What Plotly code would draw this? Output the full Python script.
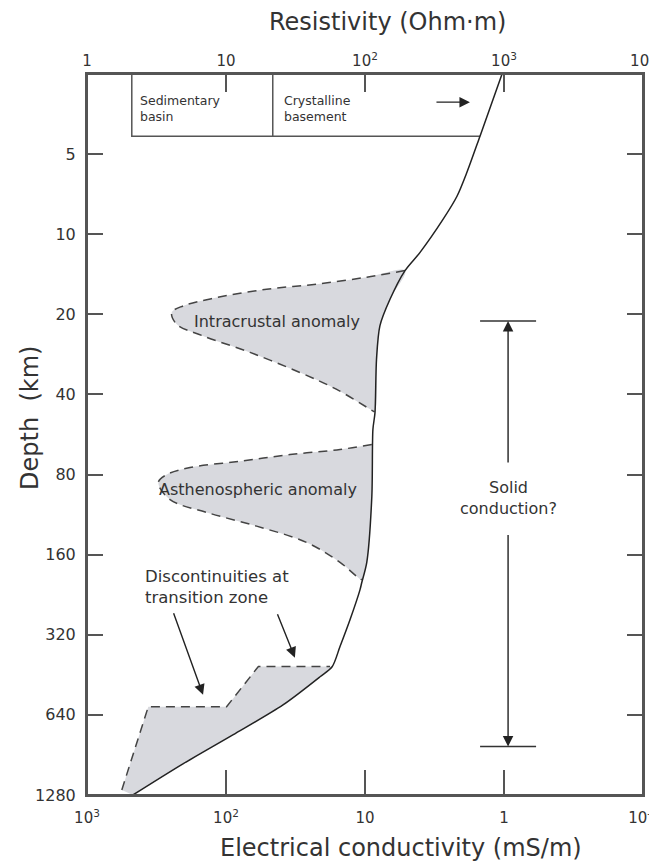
import numpy as np
import plotly.graph_objects as go

# Main resistivity-depth profile (solid line)
profile_depth = [2.5, 4.28, 5.84, 7.2, 8.8, 11.7, 13.7, 17.6, 22.1, 29.5, 46.8, 54.2,
                 96.5, 171, 204, 217, 281, 355, 422, 460, 587, 761, 978, 1280]
profile_res = [968, 672, 542, 459, 364, 249, 194, 151, 128, 121, 118, 114,
               112, 103, 94.7, 92, 78, 66, 58, 47.5, 25.7, 11.2, 4.9, 2.14]

# Intracrustal anomaly outline (dashed)
intra_res = [194, 103, 45, 19.6, 8.58, 4.91, 4.07, 4.42, 6.83, 14.9, 34.1, 62.6, 109, 117]
intra_depth = [13.7, 14.5, 15.4, 16.1, 17.3, 18.6, 19.7, 21.8, 24.1, 27.8, 33.1, 38.3, 45.5, 46.5]

# Asthenospheric anomaly outline (dashed)
asth_res = [112, 66.1, 28.9, 12.6, 5.51, 3.75, 3.26, 3.96, 7.26, 16.6, 38.1, 66.1, 87.1, 94.7]
asth_depth = [61.7, 64.4, 67.3, 71.3, 75.3, 80, 85.7, 99.3, 111, 125, 144, 171, 193, 199]

# Transition zone discontinuities (dashed steps)
tz_res = [1.78, 2.76, 10.1, 17.1, 56]
tz_depth = [1225, 596, 596, 421, 421]

# Sedimentary basin / crystalline basement box
basin_res = [2.1, 21.7]
basin_depth = 4.28
basement_res_at_base = 672

# "Solid conduction?" range
solid_res = 1070
solid_depth = [21.2, 842]

# Axis ticks
depth_ticks = [5, 10, 20, 40, 80, 160, 320, 640, 1280]
res_ticks = [1, 10, 100, 1000, 10000]
res_ticktext = ["1", "10", "10<sup>2</sup>", "10<sup>3</sup>", "10<sup>4</sup>"]
cond_ticks = [1000, 100, 10, 1, 0.1]
cond_ticktext = ["10<sup>3</sup>", "10<sup>2</sup>", "10", "1", "10<sup>-1</sup>"]

ink = "#333333"
axis_col = "#555555"
fill_col = "#d8d9de"
font = "DejaVu Sans"


def patch(a_res, a_dep, lo, hi):
    # close a dashed outline against the solid profile
    pts = [(r, d) for r, d in zip(profile_res, profile_depth) if lo <= d <= hi]
    if a_dep[-1] > a_dep[0]:
        pts = pts[::-1]
    return list(a_res) + [p[0] for p in pts], list(a_dep) + [p[1] for p in pts]


fig = go.Figure()

# gray filled anomalies
for a_res, a_dep, lo, hi, shape in [
    (intra_res, intra_depth, intra_depth[0], intra_depth[-1], "spline"),
    (asth_res, asth_depth, asth_depth[0], asth_depth[-1], "spline"),
    (tz_res, tz_depth, tz_depth[-1], max(profile_depth), "linear"),
]:
    px, py = patch(a_res, a_dep, lo, hi)
    fig.add_trace(go.Scatter(x=px, y=py, mode="lines", fill="toself", fillcolor=fill_col,
                             line=dict(width=0, shape=shape), hoverinfo="skip",
                             showlegend=False))

# dashed outlines
for a_res, a_dep, shape in [(intra_res, intra_depth, "spline"),
                            (asth_res, asth_depth, "spline"),
                            (tz_res, tz_depth, "linear")]:
    fig.add_trace(go.Scatter(x=a_res, y=a_dep, mode="lines",
                             line=dict(color="#444444", width=1.5, dash="9px,6px", shape=shape),
                             hoverinfo="skip", showlegend=False))

# box for sedimentary basin / crystalline basement
fig.add_trace(go.Scatter(
    x=[basin_res[0], basin_res[0], basement_res_at_base, None, basin_res[1], basin_res[1]],
    y=[min(profile_depth), basin_depth, basin_depth, None, min(profile_depth), basin_depth],
    mode="lines", line=dict(color=axis_col, width=1.5), hoverinfo="skip", showlegend=False))

# caps of the "solid conduction" range
fig.add_trace(go.Scatter(x=[solid_res, solid_res], y=solid_depth, mode="markers",
                         marker=dict(symbol="line-ew-open", size=40, color=ink,
                                     line=dict(color=ink, width=1.5)),
                         hoverinfo="skip", showlegend=False))

# main profile drawn on the conductivity axis (mS/m = 1000 / Ohm·m)
fig.add_trace(go.Scatter(x=[1000 / r for r in profile_res], y=profile_depth, xaxis="x2",
                         mode="lines", line=dict(color="#222222", width=1.5, shape="spline",
                                                 smoothing=0.8),
                         hoverinfo="skip", showlegend=False))

lx = np.log10
ann = [
    dict(text="Resistivity (Ohm·m)", xref="paper", yref="paper", x=0.54, y=1.0715,
         font=dict(size=24), showarrow=False, xanchor="center", yanchor="middle"),
    dict(text="Electrical conductivity (mS/m)", xref="paper", yref="paper", x=0.565,
         y=-0.0735, font=dict(size=24), showarrow=False, xanchor="center", yanchor="middle"),
    dict(text="Depth  (km)", xref="paper", yref="paper", x=-0.1025, y=0.523, textangle=-90,
         font=dict(size=24), showarrow=False, xanchor="center", yanchor="middle"),
    dict(text="Intracrustal anomaly", x=lx(5.67), y=lx(21.2), xanchor="left",
         showarrow=False, font=dict(size=16)),
    dict(text="Asthenospheric anomaly", x=lx(3.17), y=lx(91), xanchor="left",
         showarrow=False, font=dict(size=16)),
    dict(text="Discontinuities at<br>transition zone", x=lx(2.53), y=lx(212), xanchor="left",
         align="left", showarrow=False, font=dict(size=16.5)),
    dict(text="Solid<br>conduction?", x=lx(solid_res), y=lx(98), xanchor="center",
         align="center", showarrow=False, font=dict(size=16)),
    dict(text="Sedimentary<br>basin", x=lx(2.33), y=lx(3.37), xanchor="left", align="left",
         showarrow=False, font=dict(size=12.5)),
    dict(text="Crystalline<br>basement", x=lx(25.1), y=lx(3.37), xanchor="left", align="left",
         showarrow=False, font=dict(size=12.5)),
    # arrows
    dict(text="", x=lx(569), y=lx(3.19), ax=-35, ay=0, showarrow=True),
    dict(text="", x=lx(6.84), y=lx(538), ax=-30, ay=-83, showarrow=True),
    dict(text="", x=lx(31.3), y=lx(390), ax=-18, ay=-45, showarrow=True),
    dict(text="", x=lx(solid_res), y=lx(solid_depth[0]), ax=0, ay=143, showarrow=True),
    dict(text="", x=lx(solid_res), y=lx(solid_depth[1]), ax=0, ay=-213, showarrow=True),
]
for a in ann:
    if a.get("showarrow"):
        a.update(xref="x", yref="y", arrowhead=2, arrowsize=1.5, arrowwidth=1.4,
                 arrowcolor="#222222")
    elif "xref" not in a:
        a.update(xref="x", yref="y")

# the page body adds an 8px margin, so the figure is 8px smaller than the window
fig.update_layout(
    width=649, height=859,
    margin=dict(l=79, r=14, t=66, b=72),
    paper_bgcolor="white", plot_bgcolor="white",
    font=dict(family=font, color=ink, size=15),
    annotations=ann,
    shapes=[dict(type="rect", xref="paper", yref="paper", x0=0, x1=1, y0=0, y1=1,
                 line=dict(color=axis_col, width=2), layer="above")],
    xaxis=dict(type="log", range=[0, 4], side="top", anchor="y", automargin=False,
               tickvals=res_ticks, ticktext=res_ticktext, ticks="inside", ticklen=18,
               tickwidth=1.5, tickcolor=axis_col, showline=True, linecolor=axis_col,
               linewidth=2, showgrid=False, zeroline=False, tickfont=dict(size=15),
               ticklabeloverflow="allow"),
    xaxis2=dict(type="log", range=[3, -1], side="bottom", anchor="y", overlaying="x",
                automargin=False,
                tickvals=cond_ticks, ticktext=cond_ticktext, ticks="inside", ticklen=25,
                tickwidth=1.5, tickcolor=axis_col, showline=True, linecolor=axis_col,
                linewidth=2, showgrid=False, zeroline=False, tickfont=dict(size=15),
                ticklabelstandoff=8, ticklabeloverflow="allow"),
    yaxis=dict(type="log", range=[lx(1280), lx(2.5)], tickvals=depth_ticks, automargin=False,
               ticktext=[str(t) for t in depth_ticks], ticks="inside", ticklen=16,
               tickwidth=1.5, tickcolor=axis_col, showline=True, linecolor=axis_col,
               linewidth=2, mirror="ticks", showgrid=False, zeroline=False,
               tickfont=dict(size=16), ticklabelstandoff=6),
)

fig.write_html("out.html")
